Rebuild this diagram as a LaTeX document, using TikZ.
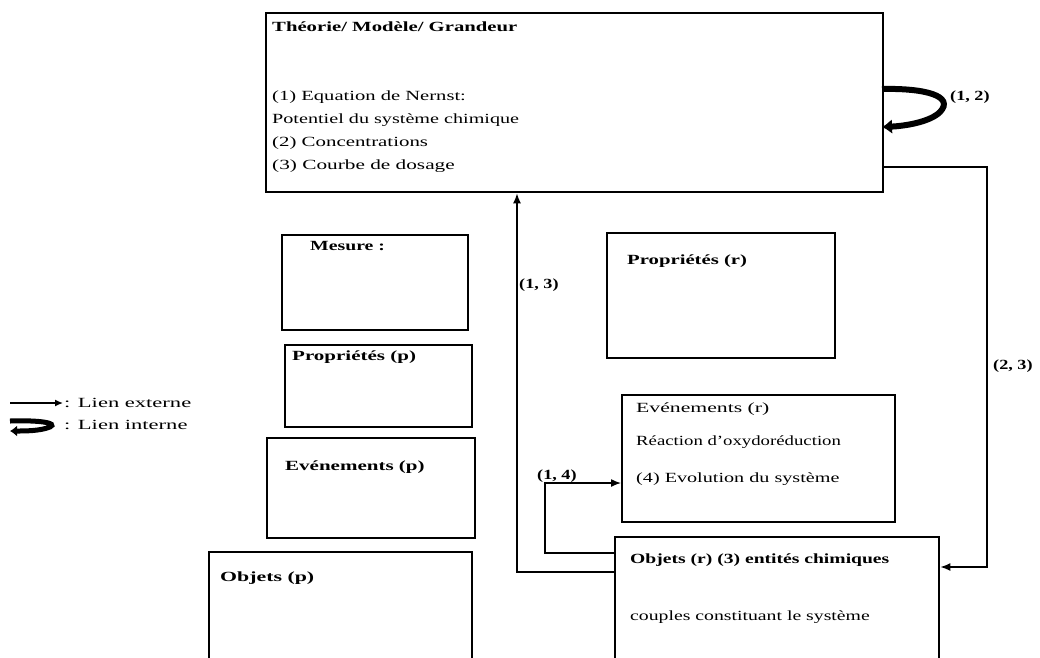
\documentclass[tikz,border=0pt]{standalone}
\usepackage{fontspec}
\usepackage{graphicx}
\setmainfont{Liberation Serif}
\usetikzlibrary{arrows.meta}
\newcommand\sx[2]{\scalebox{#1}[1]{#2}}
\begin{document}
\begin{tikzpicture}[x=1pt,y=-1pt,
  box/.style={draw, line width=2.4pt, rectangle, anchor=north west, inner sep=0pt},
  txt/.style={anchor=west, inner sep=0pt, font=\fontsize{14}{16}\selectfont},
  btxt/.style={anchor=west, inner sep=0pt, font=\fontsize{14}{16}\selectfont\bfseries},
  lbl/.style={inner sep=0pt, font=\fontsize{14}{16}\selectfont\bfseries},
  link/.style={line width=1.4pt, -{Latex[length=10pt,width=8pt]}},
  loop/.style={line width=6pt, -{Latex[length=10pt,width=15pt]}}]
\useasboundingbox (0,0) rectangle (1040,657);
% boxes
\node[box, minimum width=617, minimum height=179] (top) at (265,12) {};
\node[box, minimum width=186, minimum height=95] (mes) at (281,234) {};
\node[box, minimum width=187, minimum height=82] (propp) at (284,344) {};
\node[box, minimum width=208, minimum height=100] (evp) at (266,437) {};
\node[box, minimum width=263, minimum height=120] (objp) at (208,551) {};
\node[box, minimum width=228, minimum height=125] (propr) at (606,232) {};
\node[box, minimum width=273, minimum height=127] (evr) at (621,394) {};
\node[box, minimum width=324, minimum height=130] (objr) at (614,536) {};
% texts
\node[btxt] (t1) at (272,27) {\sx{1.48}{Théorie/ Modèle/ Grandeur}};
\node[txt] (t2) at (272,97) {\sx{1.47}{(1) Equation de Nernst:}};
\node[txt] (t3) at (272,120) {\sx{1.44}{Potentiel du système chimique}};
\node[txt] (t4) at (272,143) {\sx{1.49}{(2) Concentrations}};
\node[txt] (t5) at (272,166) {\sx{1.52}{(3) Courbe de dosage}};
\node[btxt] (m1) at (310,246) {\sx{1.41}{Mesure :}};
\node[btxt] (pp1) at (292,357) {\sx{1.5}{Propriétés (p)}};
\node[btxt] (ep1) at (285,467) {\sx{1.5}{Evénements (p)}};
\node[btxt] (op1) at (220,578) {\sx{1.56}{Objets (p)}};
\node[btxt] (pr1) at (627,261) {\sx{1.48}{Propriétés (r)}};
\node[txt] (er1) at (636,409) {\sx{1.55}{Evénements (r)}};
\node[txt] (er2) at (636,442) {\sx{1.34}{Réaction d'oxydoréduction}};
\node[txt] (er3) at (636,479) {\sx{1.44}{(4) Evolution du système}};
\node[btxt] (or1) at (630,560) {\sx{1.4}{Objets (r) (3) entités chimiques}};
\node[txt] (or2) at (630,617) {\sx{1.41}{couples constituant le système}};
% loop (1,2)
\coordinate (la) at (882,89);
\coordinate (lb) at (882,127);
\draw[loop] (la) .. controls (925,88) and (955,96) .. (940,112) .. controls (930,122) and (905,126) .. (lb);
\node[lbl, anchor=west] (l12) at (950,97) {\sx{1.3}{(1, 2)}};
% link (2,3)
\coordinate (r1) at (882,167);
\coordinate (r2) at (987,167);
\coordinate (r3) at (987,567);
\draw[link] (r1) -- (r2) -- (r3) -- (objr.east |- r3);
\node[lbl, anchor=west] (l23) at (993,366) {\sx{1.3}{(2, 3)}};
% link (1,3)
\coordinate (a1) at (614,572);
\coordinate (a2) at (517,572);
\draw[link] (a1) -- (a2) -- (a2 |- top.south);
\node[lbl, anchor=west] (l13) at (519,285) {\sx{1.3}{(1, 3)}};
% link (1,4)
\coordinate (b1) at (614,553);
\coordinate (b2) at (545,553);
\coordinate (b3) at (545,483);
\draw[link] (b1) -- (b2) -- (b3) -- (evr.west |- b3);
\node[lbl, anchor=south west] (l14) at (537,483) {\sx{1.3}{(1, 4)}};
% legend
\coordinate (g1) at (10,403);
\coordinate (g2) at (63,403);
\draw[line width=1.4pt, -{Latex[length=8pt,width=7pt]}] (g1) -- (g2);
\node[txt, anchor=west] (g3) at (64,403) {\sx{1.61}{: Lien externe}};
\coordinate (h1) at (10,421);
\coordinate (h2) at (10,431);
\draw[line width=5pt, -{Latex[length=7pt,width=11pt]}] (h1) .. controls (40,420) and (58,423) .. (50,427) .. controls (40,431) and (25,431) .. (h2);
\node[txt, anchor=west] (g4) at (64,425) {\sx{1.61}{: Lien interne}};
\end{tikzpicture}
\end{document}
